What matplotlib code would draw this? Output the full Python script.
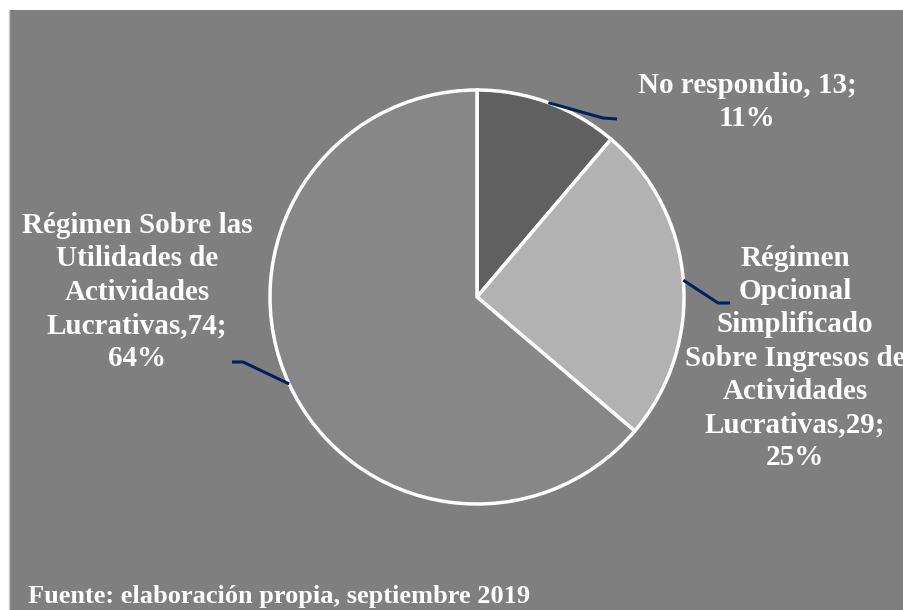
import numpy as np
import matplotlib.pyplot as plt
from matplotlib.patches import Rectangle

# Respuestas por régimen
names = ["No respondio",
         "Régimen\nOpcional\nSimplificado\nSobre Ingresos de\nActividades\nLucrativas",
         "Régimen Sobre las\nUtilidades de\nActividades\nLucrativas"]
seps = [", ", ",", ","]
values = [13, 29, 74]
colors = ["#606060", "#b2b2b2", "#878787"]

W, H = 904, 610
fig = plt.figure(figsize=(W / 100, H / 100), dpi=100, facecolor="white")
ax = fig.add_axes([0, 0, 1, 1])

# fondo gris del gráfico
ax.add_patch(Rectangle((9, 0), W - 9, H - 10, facecolor="#7f7f7f",
                       edgecolor="none", zorder=0))
ax.plot([9, 9], [0, H - 10], color="#c8c8c8", linewidth=1, zorder=1)

cx, cy, r = 477, H - 297, 207
wedges, _ = ax.pie(values, colors=colors, startangle=90, counterclock=False,
                   center=(cx, cy), radius=r,
                   wedgeprops=dict(edgecolor="white", linewidth=2.5))

total = sum(values)
pcts = [round(100 * v / total) for v in values]

# posición del texto y del codo de la línea guía (en píxeles)
text_pos = [(747, 102), (795, 358), (137, 292)]
elbows = [((603, 118), (617, 119)), ((718, 303), (730, 303)), ((243, 362), (232, 362))]

font = dict(family="Liberation Serif", weight="bold", color="white")
for w, name, sep, v, p, tp, el in zip(wedges, names, seps, values, pcts, text_pos, elbows):
    ang = np.deg2rad((w.theta1 + w.theta2) / 2)
    x0, y0 = cx + r * np.cos(ang), cy + r * np.sin(ang)
    xs = [x0, el[0][0], el[1][0]]
    ys = [y0, H - el[0][1], H - el[1][1]]
    ax.plot(xs, ys, color="#002060", linewidth=2.2, solid_capstyle="butt", zorder=3)
    ax.text(tp[0], H - tp[1], f"{name}{sep}{v};\n{p}%", ha="center", va="center",
            fontsize=21, linespacing=1.3, **font)

ax.text(28, H - 596, "Fuente: elaboración propia, septiembre 2019", ha="left",
        va="center", fontsize=19, **font)

ax.set_xlim(0, W)
ax.set_ylim(0, H)
ax.set_aspect("auto")
ax.axis("off")

fig.savefig("out.png", dpi=100, facecolor="white")
